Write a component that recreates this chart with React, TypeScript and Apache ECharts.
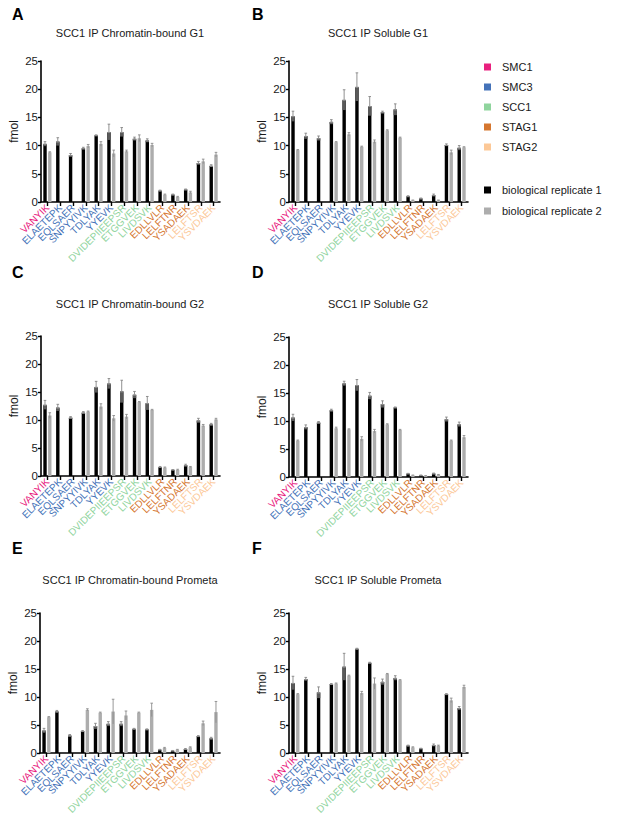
import React, { useEffect, useRef } from "react";
import * as echarts from "echarts";

const categories = [
  "VANYIK", "ELAETEPK", "EQLSAER", "SNPYYIVK", "TDLYAK", "YYEVK",
  "DVIDEPIIEEPSR", "ETGGVEK", "LIVDSVK", "EDLLVLR", "LELFTNR", "YSADAEK",
  "LELFTSR", "YSVDAEK",
];
const categoryProtein = [0, 1, 1, 1, 1, 1, 2, 2, 2, 3, 3, 3, 4, 4];
const proteins = ["SMC1", "SMC3", "SCC1", "STAG1", "STAG2"];
const proteinColors = ["#e8207e", "#4472b8", "#8fd49d", "#d5762f", "#fcc897"];
const replicateNames = ["biological replicate 1", "biological replicate 2"];
const replicateColors = ["#000000", "#adadad"];

// Panel A: Chromatin-bound G1
const aRep1 = [10.3, 10.7, 8.3, 9.5, 11.8, 12.4, 12.4, 11.2, 10.9, 2.0, 1.3, 2.2, 6.9, 6.4];
const aRep1Err = [0.4, 0.7, 0.3, 0.2, 0.1, 1.4, 0.8, 0.3, 0.3, 0.1, 0.1, 0.1, 0.3, 0.2];
const aRep2 = [8.8, null, null, 9.9, 10.3, 8.6, 9.0, 11.3, 10.1, 1.3, 0.9, 1.7, 7.2, 8.4];
const aRep2Err = [0.1, 0, 0, 0.3, 0.4, 0.6, 0.2, 0.6, 0.3, 0.1, 0.1, 0.2, 0.4, 0.4];
// Panel B: Soluble G1
const bRep1 = [15.2, 11.7, 11.3, 14.2, 18.1, 20.4, 17.0, 15.9, 16.4, 1.0, 0.6, 1.2, 10.1, 9.6];
const bRep1Err = [0.9, 0.5, 0.4, 0.4, 1.8, 2.5, 1.7, 0.2, 1.0, 0.1, 0.1, 0.2, 0.2, 0.4];
const bRep2 = [9.2, null, null, 10.6, 12.0, 9.8, 10.7, 12.7, 11.4, 0.3, null, 0.3, 8.8, 9.7];
const bRep2Err = [0.1, 0, 0, 0.1, 0.3, 0.1, 0.3, 0.1, 0.1, 0.05, 0, 0.05, 0.4, 0.1];
// Panel C: Chromatin-bound G2
const cRep1 = [12.7, 12.2, 10.4, 11.3, 15.9, 16.5, 15.1, 14.5, 13.0, 1.6, 1.1, 1.9, 9.9, 9.2];
const cRep1Err = [0.8, 0.6, 0.2, 0.2, 1.0, 0.9, 2.0, 0.6, 1.2, 0.1, 0.05, 0.2, 0.4, 0.2];
const cRep2 = [10.8, null, null, 11.5, 12.4, 10.3, 10.6, 13.2, 11.8, 1.5, 1.1, 1.6, 9.0, 10.1];
const cRep2Err = [0.5, 0, 0, 0.1, 0.5, 0.5, 0.4, 0.1, 0.1, 0.1, 0.1, 0.1, 0.2, 0.2];
// Panel D: Soluble G2
const dRep1 = [10.6, 8.9, 9.7, 11.9, 16.7, 16.4, 14.5, 13.0, 12.4, 0.6, 0.3, 0.6, 10.3, 9.4];
const dRep1Err = [0.6, 0.4, 0.2, 0.2, 0.4, 1.0, 0.6, 0.6, 0.1, 0.05, 0.05, 0.1, 0.4, 0.4];
const dRep2 = [6.5, null, null, 8.7, 8.5, 6.8, 8.2, 9.4, 8.4, 0.3, 0.2, 0.4, 6.5, 7.1];
const dRep2Err = [0.1, 0, 0, 0.2, 0.1, 0.4, 0.3, 0.1, 0.1, 0.05, 0.05, 0.05, 0.1, 0.3];
// Panel E: Chromatin-bound Prometa
const eRep1 = [4.0, 7.4, 3.1, 3.9, 4.8, 5.2, 5.2, 4.3, 4.2, 0.6, 0.4, 0.7, 3.0, 2.6];
const eRep1Err = [0.4, 0.2, 0.2, 0.1, 0.5, 0.4, 0.4, 0.1, 0.1, 0.05, 0.05, 0.1, 0.1, 0.2];
const eRep2 = [6.4, null, null, 7.7, 7.2, 7.4, 6.7, 7.2, 7.7, 0.9, 0.6, 1.0, 5.3, 7.3];
const eRep2Err = [0.1, 0, 0, 0.2, 0.1, 2.2, 0.8, 0.1, 1.2, 0.1, 0.05, 0.1, 0.4, 1.9];
// Panel F: Soluble Prometa
const fRep1 = [12.5, 13.2, 10.8, 12.3, 15.4, 18.6, 16.1, 12.7, 13.4, 1.3, 0.8, 1.4, 10.5, 8.0];
const fRep1Err = [1.2, 0.3, 1.0, 0.1, 2.4, 0.1, 0.1, 0.5, 0.4, 0.1, 0.05, 0.2, 0.1, 0.3];
const fRep2 = [10.5, null, null, 12.4, 13.8, 10.7, 12.4, 14.1, 13.0, 1.0, null, 1.3, 9.4, 11.8];
const fRep2Err = [0.1, 0, 0, 0.1, 0.1, 0.3, 1.0, 0.1, 0.1, 0.1, 0, 0.1, 0.4, 0.3];

const panelTitles = [
  "SCC1 IP Chromatin-bound G1",
  "SCC1 IP Soluble G1",
  "SCC1 IP Chromatin-bound G2",
  "SCC1 IP Soluble G2",
  "SCC1 IP Chromatin-bound Prometa",
  "SCC1 IP Soluble Prometa",
];
const panelLetters = ["A", "B", "C", "D", "E", "F"];

const panelData = [
  [aRep1, aRep1Err, aRep2, aRep2Err],
  [bRep1, bRep1Err, bRep2, bRep2Err],
  [cRep1, cRep1Err, cRep2, cRep2Err],
  [dRep1, dRep1Err, dRep2, dRep2Err],
  [eRep1, eRep1Err, eRep2, eRep2Err],
  [fRep1, fRep1Err, fRep2, fRep2Err],
];

// layout (px)
const grids = [
  { left: 41, top: 61, width: 179, height: 141 },
  { left: 289, top: 61, width: 179, height: 141 },
  { left: 41, top: 336, width: 179, height: 140 },
  { left: 289, top: 337, width: 179, height: 140 },
  { left: 40, top: 613, width: 180, height: 140 },
  { left: 289, top: 613, width: 179, height: 140 },
];
const titlePos = [
  [130, 33], [378, 33], [130, 304], [378, 304], [130, 580], [378, 580],
];
const letterPos = [
  [12, 14], [252, 14], [12, 272], [252, 272], [12, 548], [252, 548],
];

const FONT = "'Liberation Sans', Arial, Helvetica, sans-serif";
const BAR_W = 3.4;
const OFF = 2.4;

function makeErrSeries(panel: number, rep: number, values: (number | null)[], errs: number[]) {
  const data: number[][] = [];
  values.forEach((v, i) => {
    if (v !== null && v !== undefined) data.push([i, v, errs[i]]);
  });
  const off = rep === 0 ? -OFF : OFF;
  return {
    type: "custom",
    xAxisIndex: panel,
    yAxisIndex: panel,
    z: 5,
    silent: true,
    data,
    renderItem: (params: any, api: any) => {
      const idx = api.value(0);
      const v = api.value(1);
      const e = api.value(2);
      const mid = api.coord([idx, v]);
      const top = api.coord([idx, v + e]);
      const bot = api.coord([idx, Math.max(0, v - e)]);
      const x = mid[0] + off;
      const children: any[] = [];
      if (rep === 0) {
        if (bot[1] - mid[1] > 0.3) {
          children.push({
            type: "rect",
            shape: { x: x - BAR_W / 2, y: mid[1], width: BAR_W, height: bot[1] - mid[1] },
            style: { fill: "#5a5a5a" },
          });
        }
        children.push({
          type: "line",
          shape: { x1: x, y1: top[1], x2: x, y2: mid[1] },
          style: { stroke: "#858585", lineWidth: 0.9 },
        });
        children.push({
          type: "line",
          shape: { x1: x - 1.3, y1: top[1], x2: x + 1.3, y2: top[1] },
          style: { stroke: "#858585", lineWidth: 0.9 },
        });
        children.push({
          type: "line",
          shape: { x1: x - BAR_W / 2, y1: mid[1] + 0.4, x2: x + BAR_W / 2, y2: mid[1] + 0.4 },
          style: { stroke: "#a0a0a0", lineWidth: 0.8 },
        });
      } else {
        children.push({
          type: "line",
          shape: { x1: x, y1: top[1], x2: x, y2: bot[1] },
          style: { stroke: "#8c8c8c", lineWidth: 0.9 },
        });
        children.push({
          type: "line",
          shape: { x1: x - 1.3, y1: top[1], x2: x + 1.3, y2: top[1] },
          style: { stroke: "#8c8c8c", lineWidth: 0.9 },
        });
      }
      return { type: "group", children };
    },
  };
}

function buildOption() {
  const xAxis: any[] = [];
  const yAxis: any[] = [];
  const series: any[] = [];
  const graphic: any[] = [];

  grids.forEach((g, p) => {
    xAxis.push({
      type: "category",
      gridIndex: p,
      data: categories,
      boundaryGap: true,
      axisLine: { show: true, lineStyle: { color: "#000", width: 1.6 } },
      axisTick: { show: true, alignWithLabel: true, length: 4, lineStyle: { color: "#000", width: 1.4 } },
      axisLabel: {
        interval: 0,
        rotate: 45,
        margin: 4,
        fontSize: 10,
        fontFamily: FONT,
        color: (_v: any, i: number) => proteinColors[categoryProtein[i]],
      },
      splitLine: { show: false },
    });
    yAxis.push({
      type: "value",
      gridIndex: p,
      min: 0,
      max: 25,
      interval: 5,
      axisLine: { show: true, lineStyle: { color: "#000", width: 1.6 } },
      axisTick: { show: true, length: 3, lineStyle: { color: "#000", width: 1.4 } },
      axisLabel: { fontSize: 11.5, margin: 3, color: "#1a1a1a", fontFamily: FONT },
      splitLine: { show: false },
    });
    const [r1, r1e, r2, r2e] = panelData[p] as any;
    series.push({
      type: "bar",
      name: replicateNames[0],
      xAxisIndex: p,
      yAxisIndex: p,
      data: r1,
      barWidth: BAR_W,
      barGap: "40%",
      itemStyle: { color: replicateColors[0] },
      silent: true,
    });
    series.push({
      type: "bar",
      name: replicateNames[1],
      xAxisIndex: p,
      yAxisIndex: p,
      data: r2,
      barWidth: BAR_W,
      barGap: "40%",
      itemStyle: { color: replicateColors[1] },
      silent: true,
    });
    series.push(makeErrSeries(p, 0, r1, r1e));
    series.push(makeErrSeries(p, 1, r2, r2e));

    graphic.push({
      type: "text",
      x: titlePos[p][0],
      y: titlePos[p][1],
      style: {
        text: panelTitles[p],
        fontSize: 11,
        fontFamily: FONT,
        fill: "#1a1a1a",
        textAlign: "center",
        textVerticalAlign: "middle",
      },
    });
    graphic.push({
      type: "text",
      x: letterPos[p][0],
      y: letterPos[p][1],
      style: {
        text: panelLetters[p],
        fontSize: 16,
        fontWeight: "bold",
        fontFamily: FONT,
        fill: "#000",
        textAlign: "left",
        textVerticalAlign: "middle",
      },
    });
    graphic.push({
      type: "text",
      x: g.left - 27,
      y: g.top + g.height / 2,
      rotation: Math.PI / 2,
      style: {
        text: "fmol",
        fontSize: 12,
        fontFamily: FONT,
        fill: "#1a1a1a",
        textAlign: "center",
        textVerticalAlign: "middle",
      },
    });
  });

  const legendItems = [
    ...proteins.map((n, i) => ({ name: n, color: proteinColors[i], y: 67 + i * 20 })),
    { name: replicateNames[0], color: replicateColors[0], y: 190 },
    { name: replicateNames[1], color: replicateColors[1], y: 211 },
  ];
  legendItems.forEach((it) => {
    graphic.push({
      type: "rect",
      shape: { x: 484, y: it.y - 3.5, width: 7, height: 7 },
      style: { fill: it.color },
    });
    graphic.push({
      type: "text",
      x: 502,
      y: it.y,
      style: {
        text: it.name,
        fontSize: 11,
        fontFamily: FONT,
        fill: "#1a1a1a",
        textAlign: "left",
        textVerticalAlign: "middle",
      },
    });
  });

  return {
    animation: false,
    backgroundColor: "#ffffff",
    textStyle: { fontFamily: FONT },
    grid: grids.map((g) => ({ ...g, containLabel: false })),
    xAxis,
    yAxis,
    series,
    graphic,
  };
}

export default function App() {
  const ref = useRef<HTMLDivElement>(null);
  useEffect(() => {
    document.body.style.margin = "0";
    if (!ref.current) return;
    const chart = echarts.init(ref.current, undefined, { renderer: "svg" });
    chart.setOption(buildOption() as any);
    return () => chart.dispose();
  }, []);
  return <div ref={ref} style={{ width: 617, height: 823 }} />;
}
